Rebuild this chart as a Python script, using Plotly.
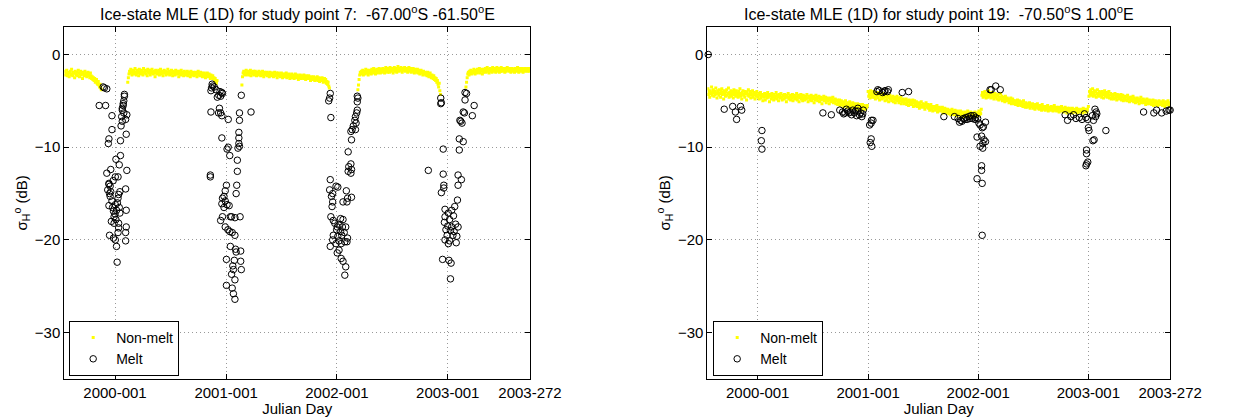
import numpy as np
import pandas as pd
import plotly.graph_objects as go

# ---------------- data ----------------
DAY0 = "2000-01-01"          # day offsets below are counted from this date
STEP = 2                     # non-melt samples are listed every 2 days

x_range = ["1999-07-18", "2003-09-29"]
tick_dates = ["2000-01-01", "2001-01-01", "2002-01-01", "2003-01-01", "2003-09-29"]
tick_labels = ["2000-001", "2001-001", "2002-001", "2003-001", "2003-272"]
y_ticks = [-30, -20, -10, 0]

titles = ["Ice-state MLE (1D) for study point 7:  -67.00<sup>o</sup>S -61.50<sup>o</sup>E",
          "Ice-state MLE (1D) for study point 19:  -70.50<sup>o</sup>S 1.00<sup>o</sup>E"]

# ---- study point 7: non-melt segments (start day, values every 2 days)
p7_nm_a_start = -165
p7_nm_a = [-1.8,-2.2,-2.0,-1.7,-2.3,-2.1,-1.9,-2.4,-2.0,-1.8,
           -2.2,-1.6,-2.1,-2.3,-1.9,-2.0,-2.5,-1.8,-2.1,-2.2,
           -1.9,-2.3,-1.7,-2.0,-2.4,-2.1,-1.8,-2.2,-2.0,-2.6,
           -1.9,-2.1,-2.3,-1.8,-2.2,-2.0,-2.4,-2.1,-1.9,-2.3,
           -2.2,-2.5,-2.0,-2.3,-2.6,
           -2.4,-2.7,-2.5,-2.8,-2.6,-3.0,-2.9,-2.7,-3.1,-3.2,-2.9,-3.3,-3.5,-3.2,-3.6,-3.8]
p7_nm_b_start = 42
p7_nm_b = [-3.0,-2.5,-2.1,-1.8,-2.0,-1.6,-1.9,-2.2,-1.7,-2.0,
           -1.8,-2.1,-1.5,-1.9,-2.2,-1.7,-2.0,-1.8,-2.3,-1.6,
           -1.9,-2.1,-1.7,-2.0,-1.8,-2.2,-1.5,-1.9,-2.0,-1.7,
           -2.1,-1.8,-2.3,-1.6,-1.9,-2.0,-1.7,-2.2,-1.8,-2.0,
           -1.6,-1.9,-2.1,-1.8,-2.0,-2.4,-1.7,-1.9,-2.1,-1.8,
           -2.0,-1.7,-2.2,-1.9,-1.6,-2.1,-1.8,-2.0,-2.3,-1.9,
           -1.7,-2.0,-1.8,-2.2,-1.9,-2.1,-1.6,-2.0,-1.8,-2.2,
           -1.9,-2.1,-1.7,-2.0,-2.3,-1.8,-2.0,-1.9,-2.2,-1.7,
           -2.0,-1.8,-2.1,-1.9,-2.4,-1.8,-2.0,-2.2,-1.7,-2.1,
           -1.9,-2.0,-2.3,-1.8,-2.1,-1.9,-2.2,-2.0,-1.8,-2.3,
           -2.1,-1.9,-2.0,-2.4,-1.8,-2.2,-2.0,-2.1,-1.9,-2.3,
           -2.0,-2.2,-1.9,-2.1,-2.4,-2.0,-1.8,-2.2,-2.1,-2.3,
           -1.9,-2.2,-2.0,-2.4,-2.1,-2.3,-2.0,-2.2,-2.5,-2.1,
           -2.3,-2.0,-2.2,-2.4,-2.1,-2.3,-2.6,-2.2,-2.4,-2.5,
           -2.3,-2.6,-2.5,-2.8,-2.6,-2.9,-3.1,-2.8]
p7_nm_c_start = 418
p7_nm_c = [-3.3,-2.4,-2.0,-1.8,-2.1,-1.9,-2.2,-1.7,-2.0,-2.1,
           -1.8,-2.2,-1.9,-2.0,-1.7,-2.3,-2.0,-1.9,-2.1,-1.8,
           -2.2,-2.0,-1.8,-2.1,-2.3,-1.9,-2.0,-2.2,-1.8,-2.1,
           -1.9,-2.3,-2.0,-2.1,-1.8,-2.2,-2.4,-1.9,-2.1,-2.0,
           -2.2,-1.9,-2.3,-2.0,-2.1,-2.4,-1.9,-2.2,-2.0,-2.3,
           -2.1,-2.0,-2.4,-2.2,-1.9,-2.3,-2.1,-2.0,-2.5,-2.2,
           -2.0,-2.3,-2.1,-2.4,-2.2,-2.0,-2.3,-2.5,-2.1,-2.2,
           -2.4,-2.1,-2.3,-2.0,-2.5,-2.2,-2.4,-2.1,-2.3,-2.6,
           -2.2,-2.4,-2.1,-2.5,-2.3,-2.2,-2.6,-2.3,-2.1,-2.4,
           -2.5,-2.2,-2.4,-2.7,-2.3,-2.5,-2.2,-2.4,-2.6,-2.3,
           -2.5,-2.4,-2.2,-2.6,-2.4,-2.7,-2.3,-2.5,-2.6,-2.4,
           -2.3,-2.6,-2.5,-2.8,-2.4,-2.6,-2.5,-2.7,-2.4,-2.6,
           -2.8,-2.5,-2.7,-2.6,-2.4,-2.8,-2.6,-2.5,-2.9,-2.7,
           -2.6,-2.8,-2.5,-2.7,-3.0,-2.8,-2.6,-2.9,-2.7,-3.1,
           -2.9,-3.2,-3.0,-3.4,-3.6]
p7_nm_d_start = 800
p7_nm_d = [-3.8,-3.3,-2.7,-2.2,-1.9,-2.1,-1.8,-2.0,-1.7,-2.2,
           -1.9,-1.8,-2.1,-1.6,-2.0,-1.9,-1.7,-2.2,-1.8,-2.0,
           -1.7,-1.9,-2.1,-1.6,-1.8,-2.0,-1.5,-1.9,-1.7,-2.1,
           -1.8,-1.6,-2.0,-1.7,-1.9,-1.5,-1.8,-2.0,-1.6,-1.7,
           -1.9,-1.5,-1.8,-1.6,-2.0,-1.7,-1.4,-1.8,-1.6,-1.9,
           -1.5,-1.7,-1.9,-1.4,-1.6,-1.8,-1.5,-1.7,-2.0,-1.6,
           -1.4,-1.8,-1.6,-1.5,-1.9,-1.7,-1.3,-1.6,-1.8,-1.5,
           -1.7,-1.4,-1.6,-1.9,-1.5,-1.7,-1.6,-1.4,-1.8,-1.6,
           -1.5,-1.7,-1.9,-1.6,-1.4,-1.8,-1.7,-1.5,-1.9,-1.6,
           -1.8,-1.5,-1.7,-2.0,-1.6,-1.8,-1.7,-1.9,-1.6,-2.0,
           -1.7,-1.9,-2.1,-1.8,-1.7,-2.0,-1.9,-2.2,-1.8,-2.0,
           -2.1,-1.9,-2.2,-2.0,-2.3,-1.9,-2.1,-2.4,-2.2,-2.0,
           -2.3,-2.5,-2.2,-2.4,-2.6,-2.3,-2.7,-2.5,-2.8,-2.6,
           -3.0,-2.8,-3.2,-3.5,-3.1,-3.9,-4.3]
p7_nm_e_start = 1156
p7_nm_e = [-3.5,-3.0,-2.5,-2.1,-1.9,-2.2,-1.8,-2.0,-1.7,-2.1,
           -1.9,-1.8,-2.0,-1.6,-1.9,-2.1,-1.7,-1.8,-2.0,-1.6,
           -1.8,-1.9,-1.5,-2.0,-1.7,-1.8,-1.6,-2.1,-1.7,-1.9,
           -1.6,-1.8,-1.5,-1.9,-1.7,-1.4,-1.8,-1.6,-2.0,-1.7,
           -1.5,-1.8,-1.6,-1.9,-1.4,-1.7,-1.8,-1.5,-1.7,-1.9,
           -1.6,-1.4,-1.8,-1.7,-1.5,-1.9,-1.6,-1.8,-1.4,-1.7,
           -1.8,-1.5,-1.7,-1.6,-1.9,-1.5,-1.8,-1.6,-1.4,-1.7,
           -1.6,-1.8,-1.5,-1.7,-1.9,-1.6,-1.5,-1.8,-1.7,-1.6,
           -1.9,-1.5,-1.7,-1.6,-1.8,-1.4,-1.7,-1.9,-1.6,-1.5,
           -1.7,-1.8,-1.6,-1.5,-1.9,-1.7,-1.6,-1.8,-1.5,-1.7,
           -1.6,-1.8,-1.7,-1.5,-1.8,-1.6]

# ---- study point 7: melt (day offset, dB)
p7_melt_day = [-39,-35,-27,-52,-31,31,31,29,27,27,24,24,39,29,22,35,24,20,-10,-10,37,-20,-22,18,
               18,3,14,39,-14,-27,1,10,-20,-16,35,-24,-14,16,12,10,-16,1,-20,37,5,-5,16,-3,-12,-3,
               12,37,12,35,10,-18,-5,1,35,5,7,-20,-18,-10,-8,0,3,8,-6,14,
               320,322,318,327,316,333,346,352,342,348,337,354,416,344,348,341,352,316,373,410,410,448,
               408,408,352,408,410,405,373,369,378,403,403,314,314,367,401,363,399,359,354,363,352,369,
               359,376,380,384,395,412,354,348,363,372,378,386,395,380,397,414,399,367,393,414,388,390,
               416,384,395,367,386,390,395,
               709,707,704,711,798,800,798,798,796,792,790,794,785,781,792,777,779,768,777,770,779,768,
               777,709,728,734,707,717,713,762,766,779,764,751,717,715,711,719,724,738,749,760,730,743,
               755,719,734,747,766,717,738,757,728,745,709,764,751,743,732,738,732,745,751,760,757,
               1073,1075,1073,1153,1158,1153,1183,1177,1147,1151,1139,1143,1136,1134,1147,1081,1134,
               1032,1081,1130,1141,1130,1083,1083,1075,1128,1119,1087,1109,1098,1115,1087,1102,1085,
               1122,1096,1109,1130,1090,1105,1117,1094,1113,1126,1087,1102,1124,1098,1079,1100,1107,1105]
p7_melt_db = [-3.5,-3.6,-3.7,-5.5,-5.5,-4.3,-4.5,-5.0,-5.3,-5.5,-5.8,-6.0,-6.5,-6.3,-6.7,-7.0,-7.2,-7.7,-6.6,-8.1,-8.6,-9.1,-9.6,-9.3,
              -10.9,-11.3,-11.9,-12.5,-12.4,-12.8,-13.2,-13.2,-13.9,-14.2,-14.5,-14.6,-14.8,-14.8,-15.1,-15.5,-15.3,-16.2,-16.3,-16.8,-16.8,-16.9,-17.1,-17.5,-18.0,-18.2,
              -18.2,-18.6,-18.7,-19.2,-19.2,-19.5,-19.8,-20.0,-20.1,-20.7,-22.4,-14.0,-15.0,-15.8,-16.5,-17.2,-17.8,-16.0,-13.6,-16.5,
              -3.2,-3.4,-3.6,-3.5,-3.9,-3.8,-4.0,-4.1,-4.4,-4.5,-4.6,-4.2,-4.4,-5.8,-6.3,-6.3,-6.6,-6.2,-7.0,-6.3,-7.1,-6.2,
              -8.4,-9.0,-9.0,-9.6,-9.9,-10.1,-10.0,-10.2,-10.9,-11.4,-12.6,-13.0,-13.2,-14.1,-14.1,-14.7,-15.0,-15.3,-15.5,-15.8,-16.1,-16.2,
              -16.5,-16.3,-17.5,-17.5,-17.6,-17.5,-17.5,-17.9,-18.6,-18.9,-19.1,-19.2,-19.5,-20.7,-21.0,-21.2,-21.3,-22.1,-22.2,-22.3,-22.8,-23.2,
              -23.2,-23.7,-24.3,-24.9,-25.2,-25.8,-26.4,
              -4.2,-4.7,-5.0,-6.8,-4.5,-4.7,-5.1,-6.0,-6.3,-6.7,-7.1,-7.4,-7.7,-8.1,-8.1,-8.3,-9.2,-10.5,-11.8,-12.1,-12.4,-12.6,
              -12.8,-13.5,-14.2,-14.3,-14.6,-15.0,-15.3,-14.7,-15.5,-15.4,-15.9,-15.9,-15.9,-16.4,-17.5,-17.9,-18.2,-18.4,-18.6,-18.6,-18.9,-19.1,
              -19.2,-19.5,-19.6,-19.5,-19.8,-20.0,-20.1,-20.2,-20.4,-20.4,-20.7,-20.2,-17.8,-17.7,-18.6,-21.1,-21.4,-22.0,-22.3,-22.9,-23.8,
              -4.7,-5.2,-5.3,-4.1,-4.2,-4.9,-5.5,-6.6,-6.2,-6.3,-7.2,-7.4,-7.1,-9.1,-9.4,-10.2,-10.3,
              -12.5,-12.9,-13.0,-13.5,-14.1,-14.1,-14.4,-14.9,-15.7,-16.4,-16.7,-16.8,-17.1,-17.4,-17.5,-17.8,-18.1,
              -18.3,-18.5,-18.6,-18.6,-18.9,-19.0,-19.1,-19.5,-19.5,-19.6,-20.0,-20.1,-20.3,-20.4,-22.1,-22.2,-22.5,-24.2]

# ---- study point 19: non-melt segments
p19_nm_a_start = -165
p19_nm_a = [-3.7,-4.3,-4.0,-4.6,-3.9,-4.2,-3.5,-4.4,-4.1,-3.8,
            -4.5,-4.0,-4.3,-3.6,-4.2,-4.7,-3.9,-4.1,-4.4,-3.8,
            -4.2,-4.6,-4.0,-3.7,-4.3,-4.1,-4.8,-3.9,-4.2,-4.5,
            -4.0,-3.8,-4.4,-4.2,-3.6,-4.6,-4.1,-4.3,-3.9,-4.5,
            -4.2,-4.0,-4.7,-3.8,-4.3,-4.1,-4.5,-3.9,-4.4,-4.2,
            -4.6,-4.0,-4.3,-3.7,-4.5,-4.2,-4.8,-4.1,-3.9,-4.4,
            -4.3,-4.6,-4.0,-4.2,-4.9,-4.1,-4.4,-3.8,-4.5,-4.3,
            -4.0,-4.7,-4.2,-4.4,-3.9,-4.6,-4.3,-4.1,-4.8,-4.2,
            -4.5,-4.0,-4.4,
            -4.6,-4.2,-4.8,-4.4,-4.1,-4.7,-4.5,-4.3,-5.0,-4.4,
            -4.6,-4.2,-4.9,-4.5,-4.3,-4.7,-4.1,-4.6,-4.4,-5.1,
            -4.3,-4.5,-4.8,-4.2,-4.6,-4.4,-4.9,-4.3,-4.7,-4.5,
            -4.1,-4.8,-4.4,-4.6,-5.0,-4.3,-4.5,-4.7,-4.2,-4.6,
            -4.9,-4.4,-4.5,-4.8,-4.3,-4.7,-4.5,-5.1,-4.4,-4.6,
            -4.2,-4.8,-4.6,-4.4,-4.9,-4.5,-4.7,-4.3,-5.0,-4.6,
            -4.4,-4.8,-4.5,-4.7,-4.2,-4.9,-4.6,-4.4,-5.1,-4.7,
            -4.5,-4.3,-4.8,-4.6,-5.0,-4.4,-4.7,-4.9,-4.5,-4.6,
            -4.8,-4.3,-4.7,-5.1,-4.6,-4.5,-4.9,-4.7,-4.4,-5.0,
            -4.6,-4.8,-4.5,-5.2,-4.7,-4.9,-4.4,-4.8,-4.6,-5.0,
            -4.7,-4.5,-5.1,-4.8,-4.6,-4.9,-5.3,-4.7,-4.8,-4.5,
            -5.0,-4.8,-4.6,-5.2,-4.9,-4.7,-5.0,-4.8,-5.3,-4.9,
            -4.7,-5.1,-4.8,-5.0,-4.6,-5.2,-4.9,
            -5.1,-4.8,-5.3,-5.0,-4.9,-5.4,-5.1,-5.2,-4.9,-5.5,
            -5.2,-5.0,-5.4,-5.3,-5.1,-5.6,-5.2,-5.4,-5.0,-5.5,
            -5.3,-5.7,-5.2,-5.4,-5.6,-5.1,-5.5,-5.3,-5.8,-5.4,
            -5.2,-5.6,-5.5,-5.3,-5.7,-5.4,-5.9,-5.5,-5.3,-5.7,
            -5.6,-5.4,-5.8,-5.5,-6.0,-5.6,-5.4,-5.8,-5.7,-5.5,
            -5.9,-5.6,-5.8,-5.7,-5.5]
p19_nm_b_start = 366
p19_nm_b = [-4.0,-4.5,-4.2,-4.7,-3.9,-4.4,-4.1,-4.6,-4.3,-4.0,
            -4.6,-4.2,-4.8,-4.3,-4.5,-4.1,-4.7,-4.4,-4.2,-4.9,
            -4.3,-4.6,-4.4,-4.8,-4.2,-4.7,-4.5,-4.3,-5.0,-4.6,
            -4.4,-4.9,-4.6,-4.5,-5.1,-4.7,-4.4,-4.8,-4.6,-5.0,
            -4.7,-4.5,-5.1,-4.8,-4.6,-5.2,-4.9,-4.7,-4.5,-5.0,
            -4.8,-5.2,-4.7,-5.0,-4.6,-5.3,-4.9,-5.1,-4.8,-5.0,
            -5.3,-4.9,-5.2,-4.8,-5.4,-5.0,-5.1,-5.5,-4.9,-5.2,
            -5.0,-5.4,-5.1,-5.3,-4.9,-5.6,-5.2,-5.0,-5.5,-5.3,
            -5.1,-5.6,-5.3,-5.5,-5.2,-5.8,-5.4,-5.6,-5.1,-5.5,
            -5.7,-5.3,-5.6,-5.4,-5.9,-5.5,-5.2,-5.7,-5.6,-5.4,
            -5.8,-5.5,-6.0,-5.6,-5.4,-5.9,-5.7,-6.1,-5.6,-5.8,
            -5.6,-6.0,-5.7,-5.9,-5.5,-6.2,-5.8,-6.0,-5.7,-5.9,
            -6.1,-5.8,-6.0,-5.7,-6.3,-5.9,-6.1,-5.8,-6.2,-5.9,
            -6.0,-6.3,-5.9,-6.2,-6.4,-6.0,-6.1,-6.5,-6.2,-5.9,
            -6.3,-6.1,-6.5,-6.2,-6.0,-6.4,-6.3,-6.6,-6.1,-6.4,
            -6.2,-6.5,-6.3,-6.1,-6.6,-6.4,-6.2,-6.5,-6.3,-6.7,
            -6.4,-6.2,-6.6,-6.3,-6.5,-6.1,-6.4,-6.7,-6.3,-6.5,
            -6.2,-6.6,-6.4,-6.3,-6.7,-6.5,-6.4,-6.2,-6.6,-6.5,
            -6.3,-6.6]
p19_nm_c_start = 731
p19_nm_c = [-6.3,-6.1,-6.5,-6.2,-6.4,-5.9,-4.4,-4.1,-4.6,-4.2,
            -4.5,-4.0,-4.4,-4.7,-4.2,-4.3,-4.6,-3.9,-4.4,-4.5,
            -4.2,-4.7,-4.4,-4.1,-4.6,-4.3,-4.8,-4.5,-4.2,-4.6,
            -4.4,-4.8,-4.5,-4.3,-4.9,-4.6,-4.7,-4.2,-4.8,-4.5,
            -5.0,-4.6,-4.9,-4.7,-5.1,-4.5,-4.8,-5.0,-4.7,-4.9,
            -4.8,-5.2,-4.9,-5.1,-4.7,-5.3,-5.0,-4.8,-5.2,-5.0,
            -5.3,-5.0,-5.4,-5.1,-5.2,-4.9,-5.5,-5.2,-5.0,-5.4,
            -5.1,-5.5,-5.3,-5.2,-5.6,-5.0,-5.4,-5.3,-5.7,-5.2,
            -5.4,-5.7,-5.3,-5.6,-5.5,-5.2,-5.8,-5.4,-5.6,-5.5,
            -5.3,-5.8,-5.6,-5.5,-5.9,-5.4,-5.7,-5.6,-5.3,-5.8,
            -5.6,-5.9,-5.5,-5.8,-5.7,-6.0,-5.4,-5.8,-5.6,-5.9,
            -5.7,-6.0,-5.6,-5.9,-5.8,-5.5,-6.1,-5.7,-5.9,-5.8,
            -6.0,-5.6,-5.9,-5.7,-6.1,-5.8,-5.5,-6.0,-5.8,-5.7,
            -6.1,-5.8,-6.0,-5.7,-6.2,-5.9,-5.8,-6.1,-5.6,-6.0,
            -5.8,-6.2,-5.9,-6.0,-5.7,-6.1,-5.9,-6.3,-5.8,-6.0,
            -6.1,-5.8,-6.2,-5.9,-6.0,-6.3,-5.8,-6.1,-6.0,-6.2,
            -5.9,-6.2,-6.0,-5.8,-6.3,-6.1,-5.9,-6.2,-6.0,-6.1,
            -6.2,-5.9,-6.1,-6.3,-5.8,-6.0,-6.2,-5.9,-6.1,-6.0,
            -6.2,-5.9]
p19_nm_d_start = 1096
p19_nm_d = [-5.6,-4.5,-4.0,-4.3,-3.8,-4.4,-4.1,-3.7,-4.5,-4.2,
            -3.9,-4.4,-4.0,-4.6,-4.2,-3.8,-4.3,-4.5,-4.0,-4.1,
            -4.4,-4.1,-4.6,-4.0,-4.3,-4.7,-4.2,-3.9,-4.5,-4.3,
            -4.1,-4.6,-4.3,-4.5,-4.0,-4.7,-4.4,-4.2,-4.8,-4.3,
            -4.6,-4.3,-4.8,-4.4,-4.2,-4.7,-4.5,-4.9,-4.3,-4.6,
            -4.4,-4.8,-4.5,-4.7,-4.3,-4.9,-4.6,-4.4,-5.0,-4.7,
            -4.8,-4.5,-4.9,-4.6,-5.0,-4.4,-4.8,-4.7,-5.1,-4.6,
            -4.9,-4.6,-5.0,-4.8,-4.5,-5.1,-4.7,-4.9,-5.2,-4.8,
            -5.0,-4.7,-5.1,-4.9,-5.3,-4.8,-5.0,-4.6,-5.2,-4.9,
            -5.1,-4.8,-5.2,-5.0,-4.9,-5.4,-5.1,-4.8,-5.3,-5.0,
            -5.2,-4.9,-5.3,-5.1,-5.0,-5.4,-5.2,-4.9,-5.5,-5.1,
            -5.3,-5.0,-5.4,-5.2,-5.1,-5.5,-5.3,-5.0,-5.4,-5.2,
            -5.1,-5.4,-5.2,-5.5,-5.0,-5.3,-5.2,-5.6,-5.1,-5.3,
            -5.4,-5.2,-5.0,-5.3,-5.5,-5.2]

# ---- study point 19: melt
p19_melt_day = [-164,-111,-83,-74,-57,-53,-70,14,12,14,216,244,
                272,281,289,298,307,315,324,332,341,348,285,302,320,337,311,328,345,350,294,332,
                382,376,371,377,376,373,378,398,395,403,414,422,433,430,420,479,500,617,652,
                664,673,682,690,699,707,716,722,669,677,686,694,703,712,720,729,733,737,744,748,755,
                727,742,750,755,746,737,746,742,742,727,744,744,770,789,804,774,
                1019,1027,1038,1047,1055,1066,1075,1083,1088,1094,1109,1113,1120,1122,1118,1124,
                1096,1098,1115,1111,1154,1090,1090,1094,1090,1088,
                1279,1313,1322,1339,1354,1363,1367]
p19_melt_db = [0.0,-5.9,-5.6,-6.2,-5.6,-6.0,-7.0,-8.2,-9.3,-10.2,-6.3,-6.5,
               -6.0,-6.2,-6.3,-6.1,-6.2,-6.0,-6.1,-6.1,-6.3,-6.4,-6.4,-6.3,-6.3,-6.5,-6.5,-6.6,-6.7,-6.0,-5.9,-5.8,
               -7.1,-7.4,-7.6,-7.1,-9.1,-9.5,-9.9,-3.8,-4.0,-3.9,-4.1,-3.9,-3.8,-4.0,-4.0,-4.1,-4.0,-6.7,-6.7,
               -6.9,-7.1,-6.9,-6.8,-6.7,-6.6,-6.6,-6.8,-7.3,-7.2,-7.0,-7.0,-6.9,-6.9,-7.0,-6.9,-7.4,-7.6,-7.9,-7.8,-7.3,
               -8.9,-8.8,-9.2,-9.4,-9.6,-9.9,-10.1,-12.0,-12.5,-13.4,-13.9,-19.5,-3.8,-3.4,-3.8,-3.8,
               -6.5,-7.1,-6.7,-6.5,-6.9,-6.8,-7.0,-6.4,-6.8,-7.0,-6.6,-7.1,-6.7,-6.2,-5.9,-6.4,
               -7.9,-8.2,-9.2,-9.3,-8.2,-10.3,-10.7,-11.6,-11.8,-12.0,
               -6.2,-6.3,-6.0,-6.3,-6.1,-6.0,-6.0]

# ---------------- helpers ----------------
base = pd.Timestamp(DAY0)

def offs_to_dates(days):
    return base + pd.to_timedelta(np.asarray(days, dtype=float), unit="D")

def seg_dates(start, vals):
    return offs_to_dates(start + STEP * np.arange(len(vals)))

FONT = "Liberation Sans, Arial, Helvetica, sans-serif"
YELLOW = "#ffff00"
FS = 15

panels = [
    dict(nm=[(p7_nm_a_start, p7_nm_a), (p7_nm_b_start, p7_nm_b), (p7_nm_c_start, p7_nm_c),
             (p7_nm_d_start, p7_nm_d), (p7_nm_e_start, p7_nm_e)],
         melt=(p7_melt_day, p7_melt_db)),
    dict(nm=[(p19_nm_a_start, p19_nm_a), (p19_nm_b_start, p19_nm_b),
             (p19_nm_c_start, p19_nm_c), (p19_nm_d_start, p19_nm_d)],
         melt=(p19_melt_day, p19_melt_db)),
]

x_domains = [[66 / 1245, 544 / 1245], [726 / 1245, 1201 / 1245]]
y_domain = [1 - 379 / 417, 1 - 26.7 / 417]

fig = go.Figure()
for i, p in enumerate(panels):
    xa = "x" if i == 0 else "x2"
    ya = "y" if i == 0 else "y2"
    lg = "legend" if i == 0 else "legend2"
    xs, ys = [], []
    for start, vals in p["nm"]:
        xs.extend(seg_dates(start, vals))
        ys.extend(vals)
    fig.add_trace(go.Scatter(x=xs, y=ys, mode="markers", name="Non-melt",
                             marker=dict(symbol="square", size=3, color=YELLOW, line=dict(width=0)),
                             xaxis=xa, yaxis=ya, legend=lg))
    md, mv = p["melt"]
    fig.add_trace(go.Scatter(x=offs_to_dates(md), y=mv, mode="markers", name="Melt",
                             marker=dict(symbol="circle-open", size=6.5, color="black",
                                         line=dict(width=1, color="black")),
                             cliponaxis=False, xaxis=xa, yaxis=ya, legend=lg))

axis_common = dict(showline=True, linecolor="black", linewidth=1, mirror="ticks",
                   ticks="inside", ticklen=5, tickcolor="black",
                   showgrid=True, gridcolor="rgba(0,0,0,0.4)", griddash="1px,3px", gridwidth=1,
                   zeroline=False, tickfont=dict(family=FONT, size=FS, color="black"))

for i in range(2):
    sfx = "" if i == 0 else "2"
    fig.update_layout(**{
        f"xaxis{sfx}": dict(axis_common, domain=x_domains[i], range=x_range, type="date",
                            tickmode="array", tickvals=tick_dates, ticktext=tick_labels,
                            anchor=f"y{sfx}",
                            title=dict(text="Julian Day", font=dict(family=FONT, size=FS, color="black"),
                                       standoff=0)),
        f"yaxis{sfx}": dict(axis_common, domain=y_domain, range=[-35, 3],
                            tickmode="array", tickvals=y_ticks, anchor=f"x{sfx}",
                            title=dict(text="σ<sub>H</sub><sup>o</sup> (dB)",
                                       font=dict(family=FONT, size=FS, color="black"), standoff=3)),
    })
    cx = (x_domains[i][0] + x_domains[i][1]) / 2
    fig.add_annotation(text=titles[i], x=cx, y=1 - 13 / 417, xref="paper", yref="paper",
                       xanchor="center", yanchor="middle", showarrow=False,
                       font=dict(family=FONT, size=16, color="black"))

legend_common = dict(bgcolor="white", bordercolor="black", borderwidth=1,
                     font=dict(family=FONT, size=14, color="black"),
                     xanchor="left", yanchor="bottom", tracegroupgap=0, itemwidth=36)
fig.update_layout(
    width=1245, height=417,
    margin=dict(l=0, r=0, t=0, b=0),
    paper_bgcolor="white", plot_bgcolor="white",
    legend=dict(legend_common, x=71 / 1245, y=1 - 376 / 417),
    legend2=dict(legend_common, x=732 / 1245, y=1 - 376 / 417),
    font=dict(family=FONT, size=FS, color="black"),
)

fig.write_html("out.html")
